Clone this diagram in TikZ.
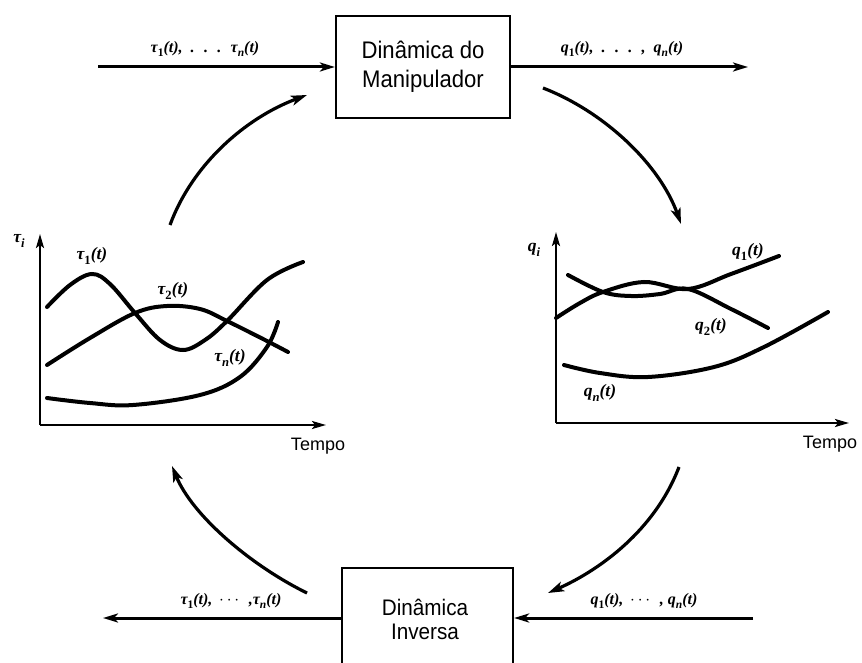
\documentclass[tikz,border=0pt]{standalone}
\usepackage{amsmath}
\usepackage{graphicx}
\usepackage{fontspec}
\setmainfont{Liberation Sans}
\newfontfamily\blockfont[FakeStretch=0.92]{Liberation Sans}
\newfontfamily\lblfont{Liberation Serif}
\newcommand{\lsub}[1]{\raisebox{-0.28em}{\scalebox{0.72}{#1}}}
\newcommand{\dsub}[1]{\raisebox{-0.28em}{\scalebox{0.72}{\upshape #1}}}
\usetikzlibrary{arrows.meta}
\tikzset{
  flow/.style={line width=3pt,-{Stealth[length=15pt,width=9pt,inset=4pt]}},
  arc/.style={line width=3.2pt,-{Stealth[length=16pt,width=10pt,inset=4pt]}},
  axis/.style={line width=2.2pt,-{Stealth[length=14pt,width=8pt,inset=3pt]}},
  curve/.style={line width=4pt,line cap=round},
  blockbox/.style={draw,line width=2.2pt,inner sep=0pt},
  toptext/.style={font=\blockfont\fontsize{24}{29}\selectfont,inner sep=0pt,anchor=base},
  bottext/.style={font=\blockfont\fontsize{22.5}{25}\selectfont,inner sep=0pt,anchor=base},
  lbl/.style={font=\lblfont\bfseries\itshape\fontsize{16}{18}\selectfont,inner sep=0pt},
  glbl/.style={font=\lblfont\bfseries\itshape\fontsize{17.5}{19}\selectfont,inner sep=0pt},
  axlbl/.style={font=\fontsize{18}{20}\selectfont,inner sep=0pt}
}
\begin{document}
\begin{tikzpicture}[x=1pt,y=-1pt]
\clip (0,0) rectangle (862,663);
\useasboundingbox (0,0) rectangle (862,663);
\fill[white] (0,0) rectangle (862,663);

% ---- top block
\node[blockbox,minimum width=174pt,minimum height=102pt] (dm) at (423,67) {};
\node[toptext] (dm1) at (423,59) {Dinâmica do};
\node[toptext] (dm2) at (423,88) {Manipulador};
\coordinate (tin) at (98,67);
\coordinate (tout) at (748,67);
\draw[flow] (tin) -- (dm.west);
\draw[flow] (dm.east) -- (tout);
\node[lbl] (tlab) at (205,49) {τ\dsub{1}(t), \ . \ . \ . \ τ\lsub{n}(t)};
\node[lbl] (qlab) at (622,49) {q\dsub{1}(t), \ . \ . \ . \ , \ q\lsub{n}(t)};

% ---- bottom block
\node[blockbox,minimum width=171pt,minimum height=100pt] (di) at (427.5,618) {};
\node[bottext] (di1) at (425,615) {Dinâmica};
\node[bottext] (di2) at (425,639) {Inversa};
\coordinate (bin) at (753,618);
\coordinate (bout) at (103,618);
\draw[flow] (bin) -- (di.east);
\draw[flow] (di.west) -- (bout);
\node[lbl] (btlab) at (231,601) {τ\dsub{1}(t), \,$\cdots$\, ,τ\lsub{n}(t)};
\node[lbl] (bqlab) at (644,601) {q\dsub{1}(t), \,$\cdots$\, , q\lsub{n}(t)};

% ---- circulating arcs
\coordinate (a1s) at (170,225); \coordinate (a1e) at (307,95);
\coordinate (a2s) at (543,88);  \coordinate (a2e) at (681,224);
\coordinate (a3s) at (679,467); \coordinate (a3e) at (548,593);
\coordinate (a4s) at (307,593); \coordinate (a4e) at (172,466);
\draw[arc] (a1s) .. controls (192,165) and (245,118) .. (a1e);
\draw[arc] (a2s) .. controls (605,112) and (660,165) .. (a2e);
\draw[arc] (a3s) .. controls (655,530) and (600,570) .. (a3e);
\draw[arc] (a4s) .. controls (250,565) and (192,515) .. (a4e);

% ---- left graph
\coordinate (lo) at (40,425);
\coordinate (ly) at (40,234);
\coordinate (lx) at (326,425);
\draw[axis] (lo) -- (ly);
\draw[axis] (lo) -- (lx);
\node[axlbl] (ltempo) at (318,446) {Tempo};
\node[glbl] (ltau) at (19,241) {τ\lsub{i}};
\draw[curve] plot[smooth,tension=0.6] coordinates {(47,307) (70,285) (92,274) (110,284) (135,313) (160,340) (183,350) (205,340) (227,321) (267,280) (303,262)};
\draw[curve] plot[smooth,tension=0.6] coordinates {(47,365) (90,338) (135,313) (167,306) (200,309) (227,321) (265,340) (288,352)};
\draw[curve] plot[smooth,tension=0.6] coordinates {(47,398) (90,403) (133,405) (200,395) (240,377) (267,347) (278,322)};
\node[glbl] (lt1) at (92,256) {τ\dsub{1}(t)};
\node[glbl] (lt2) at (173,291) {τ\dsub{2}(t)};
\node[glbl] (ltn) at (230,358) {τ\lsub{n}(t)};

% ---- right graph
\coordinate (ro) at (556,423);
\coordinate (ry) at (556,232);
\coordinate (rx) at (849,423);
\draw[axis] (ro) -- (ry);
\draw[axis] (ro) -- (rx);
\node[axlbl] (rtempo) at (830,444) {Tempo};
\node[glbl] (rq) at (534,250) {q\lsub{i}};
\draw[curve] plot[smooth,tension=0.6] coordinates {(556,318) (580,303) (603,292) (644,282) (688,289) (731,274) (779,256)};
\draw[curve] plot[smooth,tension=0.6] coordinates {(568,275) (603,292) (631,296) (660,294) (688,289) (731,309) (768,328)};
\draw[curve] plot[smooth,tension=0.6] coordinates {(564,365) (600,373) (648,377) (714,367) (764,347) (828,312)};
\node[glbl] (rq1) at (748,252) {q\dsub{1}(t)};
\node[glbl] (rq2) at (711,327) {q\dsub{2}(t)};
\node[glbl] (rqn) at (600,393) {q\lsub{n}(t)};
\end{tikzpicture}
\end{document}
